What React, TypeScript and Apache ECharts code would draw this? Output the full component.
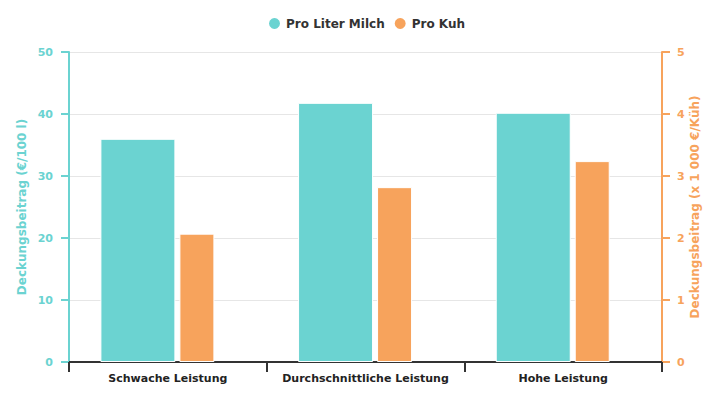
import React, { useEffect, useRef } from "react";
import * as echarts from "echarts";

const categories = ["Schwache Leistung", "Durchschnittliche Leistung", "Hohe Leistung"];
const proLiterMilch = [36.0, 41.8, 40.2];
const proKuh = [2.07, 2.82, 3.24];
const leftTicks = { min: 0, max: 50, interval: 10 };
const rightTicks = { min: 0, max: 5, interval: 1 };

const TEAL = "#6bd3d1";
const ORANGE = "#f7a35c";
const FONT = "DejaVu Sans";

export default function App() {
  const ref = useRef<HTMLDivElement>(null);
  useEffect(() => {
    if (!ref.current) return;
    const chart = echarts.init(ref.current, undefined, { renderer: "svg" });
    chart.setOption({
      animation: false,
      textStyle: { fontFamily: FONT },
      legend: {
        data: ["Pro Liter Milch", "Pro Kuh"],
        top: 11,
        left: 262,
        icon: "circle",
        itemWidth: 13,
        itemHeight: 13,
        itemGap: 8,
        textStyle: { fontFamily: FONT, fontSize: 12, fontWeight: "bold", color: "#333333" },
      },
      grid: { left: 69, right: 63, top: 52, bottom: 38, containLabel: false },
      xAxis: {
        type: "category",
        data: categories,
        axisLine: { show: true, lineStyle: { color: "#333333", width: 2 } },
        axisTick: { show: true, length: 10, lineStyle: { color: "#333333", width: 2 } },
        axisLabel: { interval: 0, fontFamily: FONT, fontSize: 11, fontWeight: "bold", color: "#222222", margin: 11 },
      },
      yAxis: [
        {
          type: "value",
          position: "left",
          ...leftTicks,
          name: "Deckungsbeitrag (€/100 l)",
          nameLocation: "middle",
          nameRotate: 90,
          nameGap: 41,
          nameMoveOverlap: false,
          nameTextStyle: { fontFamily: FONT, fontSize: 12, fontWeight: "bold", color: TEAL },
          axisLine: { show: true, lineStyle: { color: TEAL, width: 2 } },
          axisTick: { show: true, length: 8, lineStyle: { color: TEAL, width: 2 } },
          axisLabel: { fontFamily: FONT, fontSize: 11, fontWeight: "bold", color: TEAL, margin: 16 },
          splitLine: { show: true, lineStyle: { color: "#e6e6e6", width: 1 } },
        },
        {
          type: "value",
          position: "right",
          ...rightTicks,
          name: "Deckungsbeitrag (x 1 000 €/Küh)",
          nameLocation: "middle",
          nameRotate: 90,
          nameGap: 27,
          nameMoveOverlap: false,
          nameTextStyle: { fontFamily: FONT, fontSize: 12, fontWeight: "bold", color: ORANGE },
          axisLine: { show: true, lineStyle: { color: ORANGE, width: 2 } },
          axisTick: { show: true, length: 8, lineStyle: { color: ORANGE, width: 2 } },
          axisLabel: { fontFamily: FONT, fontSize: 11, fontWeight: "bold", color: ORANGE, margin: 15 },
          splitLine: { show: false },
        },
      ],
      series: [
        {
          name: "Pro Liter Milch",
          type: "bar",
          yAxisIndex: 0,
          data: proLiterMilch,
          barWidth: 75,
          barGap: "5.33%",
          itemStyle: { color: TEAL, borderColor: "#ffffff", borderWidth: 1 },
        },
        {
          name: "Pro Kuh",
          type: "bar",
          yAxisIndex: 1,
          data: proKuh,
          barWidth: 35,
          barGap: "5.33%",
          itemStyle: { color: ORANGE, borderColor: "#ffffff", borderWidth: 1 },
        },
        {
          name: "spacer",
          type: "bar",
          yAxisIndex: 0,
          data: ["-", "-", "-"],
          barWidth: 19,
          barGap: "5.33%",
          silent: true,
          itemStyle: { color: "transparent" },
        },
      ],
    });
    return () => chart.dispose();
  }, []);
  return <div ref={ref} style={{ width: 725, height: 400, position: "absolute", left: 0, top: 0 }} />;
}
